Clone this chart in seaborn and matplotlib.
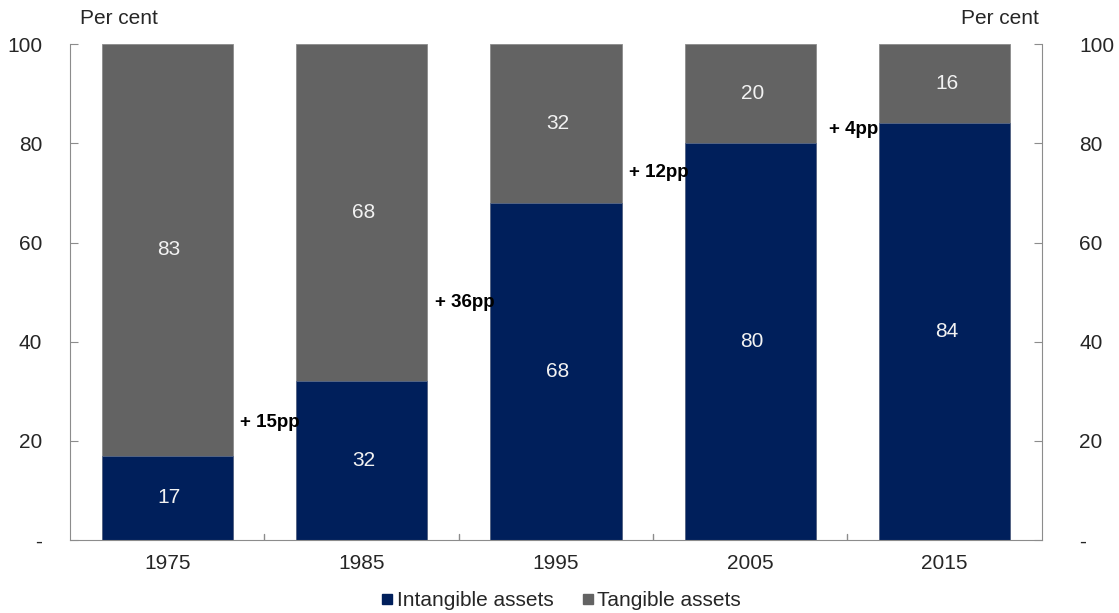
import matplotlib.pyplot as plt
import seaborn as sns
import pandas as pd
from matplotlib.lines import Line2D

years = ['1975', '1985', '1995', '2005', '2015']
intangible = [17, 32, 68, 80, 84]
tangible = [83, 68, 32, 20, 16]
changes = ['+ 15pp', '+ 36pp', '+ 12pp', '+ 4pp']
change_y = [23.8, 48, 74.2, 82.7]
ytick_labels = ['-', '20', '40', '60', '80', '100']

navy = '#001f5b'
grey = '#636363'

df = pd.DataFrame({'year': years, 'intangible': intangible, 'tangible': tangible})
df['total'] = df['intangible'] + df['tangible']

sns.set_style('white')
plt.rcParams['font.family'] = ['Liberation Sans', 'DejaVu Sans']

fig = plt.figure(figsize=(11.19, 6.13), dpi=100)
ax = fig.add_axes([0.0626, 0.119, 0.8684, 0.809])

sns.barplot(data=df, x='year', y='total', color=grey, saturation=1, width=0.675,
            edgecolor='#8c8c8c', linewidth=0.6, ax=ax)
sns.barplot(data=df, x='year', y='intangible', color=navy, saturation=1, width=0.675,
            edgecolor='#5a6a8a', linewidth=0.6, ax=ax)

ax.set_xlim(-0.5, 4.5)
ax.set_ylim(0, 100)
ax.set_xlabel('')
ax.set_ylabel('')

# value labels inside bars
for i in range(len(years)):
    ax.text(i + 0.01, intangible[i] / 2, str(intangible[i]), ha='center', va='center',
            color='#f2f2f2', fontsize=15)
    ax.text(i + 0.01, intangible[i] + tangible[i] / 2, str(tangible[i]), ha='center',
            va='center', color='#f2f2f2', fontsize=15)

# change annotations between bars
for i, (lab, yy) in enumerate(zip(changes, change_y)):
    ax.text(i + 0.53, yy, lab, ha='center', va='center', fontsize=13.5,
            fontweight='bold', color='black')

for s in ['left', 'right', 'bottom', 'top']:
    ax.spines[s].set_color('#8c8c8c')
ax.spines['top'].set_visible(False)

ax.set_yticks([0, 20, 40, 60, 80, 100])
ax.set_yticklabels(ytick_labels)
ax.tick_params(axis='y', direction='in', length=6, color='#8c8c8c', left=True,
               labelsize=15, pad=20)
ax.set_xticks([0, 1, 2, 3, 4])
ax.set_xticklabels(years)
ax.tick_params(axis='x', length=0, labelsize=15, pad=10)
for b in [0.5, 1.5, 2.5, 3.5]:
    ax.plot([b, b], [0, 1.3], color='#8c8c8c', linewidth=1)

ax2 = ax.twinx()
ax2.set_ylim(0, 100)
ax2.set_yticks([0, 20, 40, 60, 80, 100])
ax2.set_yticklabels(ytick_labels)
ax2.tick_params(axis='y', direction='in', length=6, color='#8c8c8c', labelsize=15, pad=27)
for s in ax2.spines.values():
    s.set_visible(False)

fig.text(0.0715, 0.97, 'Per cent', ha='left', va='center', fontsize=15)
fig.text(0.928, 0.97, 'Per cent', ha='right', va='center', fontsize=15)

handles = [Line2D([], [], marker='s', linestyle='', color=navy, markersize=7),
           Line2D([], [], marker='s', linestyle='', color=grey, markersize=7)]
fig.legend(handles, ['Intangible assets', 'Tangible assets'], loc='center',
           bbox_to_anchor=(0.5, 0.02), ncol=2, frameon=False, fontsize=15,
           handletextpad=0.0, columnspacing=1.2, handlelength=0.9)

fig.savefig('out.png', dpi=100)
